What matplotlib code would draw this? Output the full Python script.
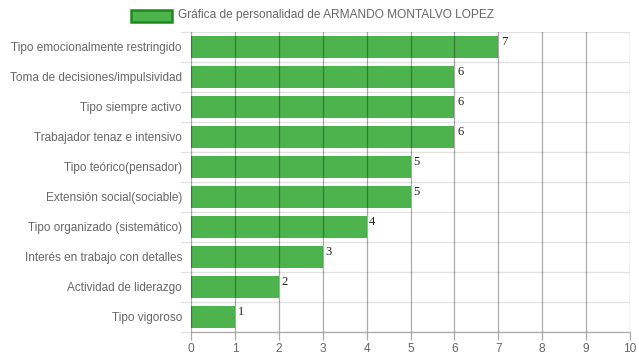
import numpy as np
import matplotlib
matplotlib.use("Agg")
from matplotlib import pyplot as plt
from matplotlib.patches import Rectangle

categories = [
    "Tipo emocionalmente restringido",
    "Toma de decisiones/impulsividad",
    "Tipo siempre activo",
    "Trabajador tenaz e intensivo",
    "Tipo teórico(pensador)",
    "Extensión social(sociable)",
    "Tipo organizado (sistemático)",
    "Interés en trabajo con detalles",
    "Actividad de liderazgo",
    "Tipo vigoroso",
]
values = [7, 6, 6, 6, 5, 5, 4, 3, 2, 1]
x_ticks = list(range(0, 11))
legend_label = "Gráfica de personalidad de ARMANDO MONTALVO LOPEZ"

plt.rcParams['font.family'] = ['Liberation Sans', 'DejaVu Sans']

fig = plt.figure(figsize=(6.39, 3.6), dpi=100)
ax = fig.add_axes([191 / 639, 28 / 360, (630 - 191) / 639, 300 / 360])

n = len(categories)
y = np.arange(n)
grid_v = (0, 0, 0, 0.33)

for yb in np.arange(-0.5, n, 1.0):
    ax.axhline(yb, color="#e2e2e2", lw=0.9, zorder=1)

ax.barh(y, values, height=0.72, color="#4db34d", zorder=2)

# vertical gridlines on top, semi-transparent so they tint the bars
for xv in x_ticks:
    ax.axvline(xv, color=grid_v, lw=0.9, zorder=4)

for yi, v in zip(y, values):
    ax.text(v + 0.06, yi - 0.36, str(v), family="Liberation Serif", fontsize=9,
            color="#222222", ha="left", va="top", zorder=5)

ax.set_xlim(0, 10)
ax.set_ylim(n - 0.5, -0.5)
ax.set_xticks(x_ticks)
ax.set_yticks(y)
ax.set_yticklabels(categories)
ax.tick_params(axis="x", colors="#aaaaaa", labelcolor="#666666", labelsize=8.6,
               length=6, width=0.9, pad=2)
ax.tick_params(axis="y", length=0, labelcolor="#666666", labelsize=8.5, pad=6.5)
for s in ["top", "right", "left"]:
    ax.spines[s].set_visible(False)
ax.spines["bottom"].set_color("#aaaaaa")
ax.spines["bottom"].set_linewidth(0.9)

# short tick marks on the left at band edges
for yb in np.arange(-0.5, n, 1.0):
    ax.plot([-0.22, 0], [yb, yb], color="#e2e2e2", lw=0.9, clip_on=False, zorder=1)

# legend
fig.patches.append(Rectangle((131 / 639, 1 - 22 / 360), 41 / 639, 12 / 360,
                             transform=fig.transFigure, facecolor="#4db34d",
                             edgecolor="#1e8a1e", lw=1.8))
fig.text(178 / 639, 1 - 15 / 360, legend_label, fontsize=8.6, color="#666666",
         ha="left", va="center")

fig.savefig("out.png", dpi=100)
